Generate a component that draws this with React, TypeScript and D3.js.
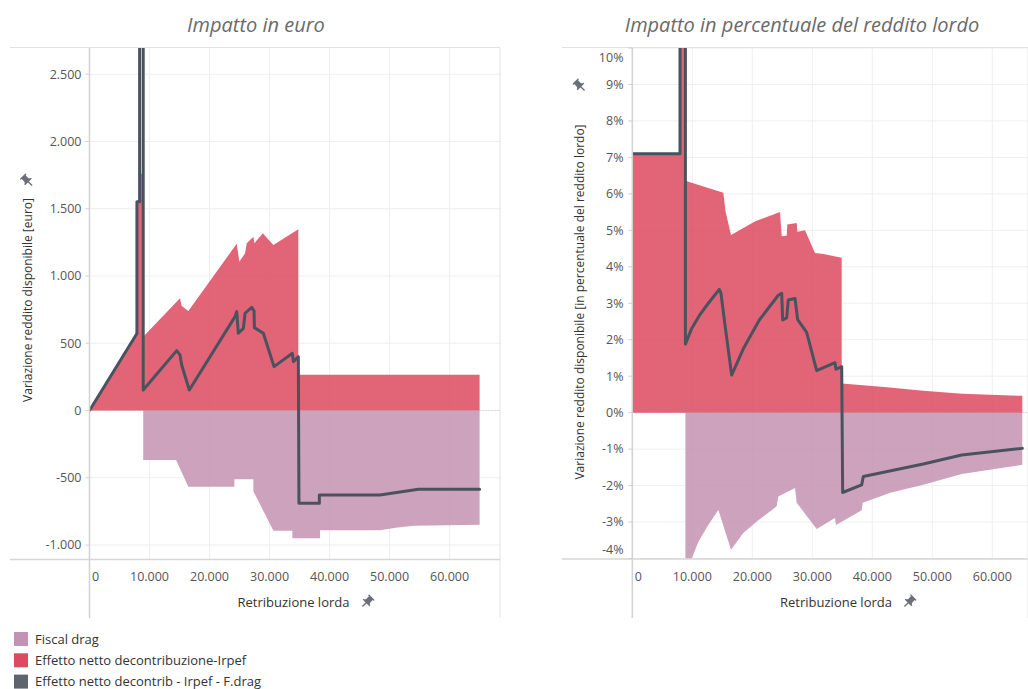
import React from "react";
import * as d3 from "d3";

// ---------------- DATA ----------------
// Left chart: euro impact (x = gross pay, y = euro)
const redEuroX = [0, 7900, 7900, 8300, 8300, 8950, 8950, 15080, 15360, 16470, 24530, 24970, 25920, 26200, 27300, 27470, 28870, 30640, 34800, 34800, 65000];
const redEuroY = [0, 573, 1550, 1550, 1760, 1760, 549, 834, 777, 740, 1240, 1106, 1169, 1243, 1292, 1243, 1317, 1230, 1347, 266, 266];

const fiscalEuroX = [0, 8950, 8950, 14420, 16470, 24140, 24140, 27300, 27300, 30640, 33800, 33800, 38420, 38420, 48400, 51000, 54000, 65000];
const fiscalEuroY = [0, 0, -368, -368, -566, -566, -512, -512, -600, -894, -894, -950, -950, -890, -890, -872, -856, -850];

const netEuroX = [0, 7900, 7900, 8350, 8350, 8950, 8950, 14530, 15080, 15360, 16630, 24250, 24530, 24800, 25640, 25920, 27030, 27420, 27470, 28970, 30750, 33800, 33970, 34800, 34900, 38300, 38300, 48400, 54800, 65000];
const netEuroY = [0, 573, 1552, 1552, 2950, 2950, 152, 445, 413, 338, 152, 698, 735, 574, 611, 723, 767, 740, 616, 574, 326, 425, 363, 400, -690, -690, -628, -628, -586, -586];

// Right chart: impact in % of gross income
const redPctX = [0, 7950, 7950, 8850, 8850, 15170, 15560, 16450, 20500, 24620, 24900, 25730, 25830, 27400, 27500, 28780, 30450, 31840, 34900, 34900, 42000, 48500, 55000, 65000];
const redPctY = [7.1, 7.1, 25, 25, 6.36, 6.03, 5.5, 4.87, 5.25, 5.5, 4.84, 4.85, 5.16, 5.2, 4.96, 5.0, 4.38, 4.35, 4.25, 0.8, 0.7, 0.6, 0.52, 0.46];

const fiscalPctX = [0, 8850, 8850, 9900, 11000, 12500, 14340, 16450, 18500, 21000, 24060, 24330, 27120, 27400, 30730, 33780, 33950, 34900, 38230, 38400, 43000, 48500, 54900, 65000];
const fiscalPctY = [0, 0, -4.6, -4.0, -3.55, -3.12, -2.67, -3.76, -3.3, -2.95, -2.57, -2.3, -2.07, -2.47, -3.19, -2.89, -3.08, -2.99, -2.68, -2.47, -2.2, -1.98, -1.68, -1.43];

const netPctX = [0, 7950, 7950, 8850, 8850, 9900, 11280, 12670, 14500, 14780, 15450, 16560, 18500, 21170, 24330, 24900, 25060, 25730, 26000, 27120, 27560, 29060, 30730, 33780, 33950, 34900, 35060, 38230, 38500, 48500, 54900, 65000];
const netPctY = [7.1, 7.1, 40, 40, 1.88, 2.31, 2.69, 3.0, 3.38, 3.27, 2.4, 1.03, 1.75, 2.54, 3.22, 3.27, 2.54, 2.6, 3.09, 3.13, 2.55, 2.2, 1.15, 1.37, 1.19, 1.26, -2.19, -1.98, -1.75, -1.41, -1.16, -0.98];

const xTicks = [0, 10000, 20000, 30000, 40000, 50000, 60000];
const euroTicks = [-1000, -500, 0, 500, 1000, 1500, 2000, 2500];
const pctTicks = [-4, -3, -2, -1, 0, 1, 2, 3, 4, 5, 6, 7, 8, 9, 10];

const titles = ["Impatto in euro", "Impatto in percentuale del reddito lordo"];
const yTitles = ["Variazione reddito disponibile [euro]", "Variazione reddito disponibile [in percentuale del reddito lordo]"];
const xTitle = "Retribuzione lorda";
const legendLabels = ["Fiscal drag", "Effetto netto decontribuzione-Irpef", "Effetto netto decontrib - Irpef - F.drag"];
const legendColors = ["#c492b2", "#dc4a5e", "#5d6470"];

// ---------------- HELPERS ----------------
const FONT = "'Open Sans', 'Noto Sans', sans-serif";
const LINE_COLOR = "#4a5260";
const zip = (xs: number[], ys: number[]) => xs.map((x, i) => [x, ys[i]] as [number, number]);

const it = d3.formatLocale({ decimal: ",", thousands: ".", grouping: [3], currency: ["€", ""], minus: "-" });
const fmtInt = it.format(",d");

const PIN = "M16 9V4h1c.55 0 1-.45 1-1s-.45-1-1-1H7c-.55 0-1 .45-1 1s.45 1 1 1h1v5c0 1.66-1.34 3-3 3v2h5.97v7l1 1 1-1v-7H19v-2c-1.66 0-3-1.34-3-3z";
function Pin({ x, y, rot = 45 }: { x: number; y: number; rot?: number }) {
  return (
    <g transform={`translate(${x},${y}) rotate(${rot}) scale(0.68) translate(-12,-12)`}>
      <path d={PIN} fill="#6b6f78" />
    </g>
  );
}

type PanelProps = {
  id: string;
  frameLeft: number;
  x0: number; x1: number; y0: number; y1: number;
  xMax: number;
  yDomain: [number, number];
  yTicks: number[];
  fmt: (v: number) => string;
  red: [number, number][];
  fiscal: [number, number][];
  net: [number, number][];
  title: string; titleX: number;
  yTitle: string; yTitleX: number; yTitleY: number; yPinY: number;
  xTitleX: number; xPinX: number;
  labelRight: number;
};

function Panel(p: PanelProps) {
  const x = d3.scaleLinear().domain([0, p.xMax]).range([p.x0, p.x1]);
  const y = d3.scaleLinear().domain(p.yDomain).range([p.y1, p.y0]);
  const area = d3.area<[number, number]>().x(d => x(d[0])).y0(y(0)).y1(d => y(d[1]));
  const line = d3.line<[number, number]>().x(d => x(d[0])).y(d => y(d[1]));
  const clipId = `clip-${p.id}`;
  return (
    <g>
      <defs>
        <clipPath id={clipId}>
          <rect x={p.x0} y={p.y0} width={p.x1 - p.x0} height={p.y1 - p.y0} />
        </clipPath>
      </defs>
      {/* title */}
      <text x={p.titleX} y={32} textAnchor="middle" fontFamily={FONT} fontStyle="italic" fontSize={20} fill="#6a6a6a">{p.title}</text>
      {/* grid */}
      {p.yTicks.map(t => (
        <line key={"gy" + t} x1={p.x0} x2={p.x1} y1={y(t)} y2={y(t)} stroke="#efefef" strokeWidth={1} />
      ))}
      {xTicks.filter(t => t > 0).map(t => (
        <line key={"gx" + t} x1={x(t)} x2={x(t)} y1={p.y0} y2={p.y1} stroke="#efefef" strokeWidth={1} />
      ))}
      <line x1={p.x0} x2={p.x1} y1={y(0)} y2={y(0)} stroke="#c8c8c8" strokeDasharray="1,2" />
      <g clipPath={`url(#${clipId})`}>
        <path d={area(p.fiscal) || ""} fill="#c492b2" fillOpacity={0.85} />
        <path d={area(p.red) || ""} fill="#dc4a5e" fillOpacity={0.85} />
        <path d={line(p.net) || ""} fill="none" stroke={LINE_COLOR} strokeWidth={3} strokeLinejoin="round" strokeLinecap="round" />
      </g>
      {/* frame */}
      <line x1={p.frameLeft} x2={p.x1} y1={p.y0 - 0.5} y2={p.y0 - 0.5} stroke="#e2e2e2" />
      <line x1={p.frameLeft} x2={p.x1} y1={p.y1 + 0.5} y2={p.y1 + 0.5} stroke="#d6d6d6" strokeWidth={1.5} />
      <line x1={p.x0} x2={p.x0} y1={p.y0} y2={618} stroke="#d2d2d2" strokeWidth={1.5} />
      <line x1={p.x1} x2={p.x1} y1={p.y0} y2={618} stroke="#e2e2e2" />
      {/* y ticks */}
      {p.yTicks.map(t => {
        const cy = Math.max(p.y0 + 10, Math.min(p.y1 - 9, y(t)));
        return (
          <g key={"yt" + t}>
            <line x1={p.x0 - 4} x2={p.x0} y1={y(t)} y2={y(t)} stroke="#d0d0d0" />
            <text x={p.labelRight} y={cy} dy="0.35em" textAnchor="end" fontFamily={FONT} fontSize={12.5} fill="#555">{p.fmt(t)}</text>
          </g>
        );
      })}
      {/* x ticks */}
      {xTicks.map(t => (
        <text key={"xt" + t} x={t === 0 ? x(t) + 2.5 : x(t)} y={577} dy="0.35em" textAnchor={t === 0 ? "start" : "middle"} fontFamily={FONT} fontSize={12.5} fill="#555">{fmtInt(t)}</text>
      ))}
      <text x={p.xTitleX} y={602} dy="0.35em" textAnchor="middle" fontFamily={FONT} fontSize={13} fill="#333">{xTitle}</text>
      <Pin x={p.xPinX} y={602} />
      <text transform={`translate(${p.yTitleX},${p.yTitleY}) rotate(-90)`} dy="0.35em" textAnchor="middle" fontFamily={FONT} fontSize={12} fill="#333">{p.yTitle}</text>
      <Pin x={p.yTitleX} y={p.yPinY} rot={-45} />
    </g>
  );
}

export default function App() {
  return (
    <svg width={1028} height={689} style={{ position: "absolute", left: 0, top: 0, background: "#fff" }}>
      <Panel
        id="euro" frameLeft={10}
        x0={89.5} x1={500} y0={48} y1={559}
        xMax={68400} yDomain={[-1104, 2695]} yTicks={euroTicks} fmt={v => fmtInt(v)}
        red={zip(redEuroX, redEuroY)} fiscal={zip(fiscalEuroX, fiscalEuroY)} net={zip(netEuroX, netEuroY)}
        title={titles[0]} titleX={256}
        yTitle={yTitles[0]} yTitleX={27.5} yTitleY={300} yPinY={181}
        xTitleX={293.5} xPinX={367}
        labelRight={81.5}
      />
      <Panel
        id="pct" frameLeft={562}
        x0={632.3} x1={1028} y0={48} y1={558.5}
        xMax={65950} yDomain={[-4, 10]} yTicks={pctTicks} fmt={v => `${v}%`}
        red={zip(redPctX, redPctY)} fiscal={zip(fiscalPctX, fiscalPctY)} net={zip(netPctX, netPctY)}
        title={titles[1]} titleX={802}
        yTitle={yTitles[1]} yTitleX={580} yTitleY={302} yPinY={86}
        xTitleX={836} xPinX={909}
        labelRight={623.5}
      />
      {legendLabels.map((l, i) => (
        <g key={l}>
          <rect x={14} y={632 + i * 21.3} width={14} height={14} fill={legendColors[i]} />
          <text x={35} y={643.5 + i * 21.3} fontFamily={FONT} fontSize={13} fill="#333">{l}</text>
        </g>
      ))}
    </svg>
  );
}
